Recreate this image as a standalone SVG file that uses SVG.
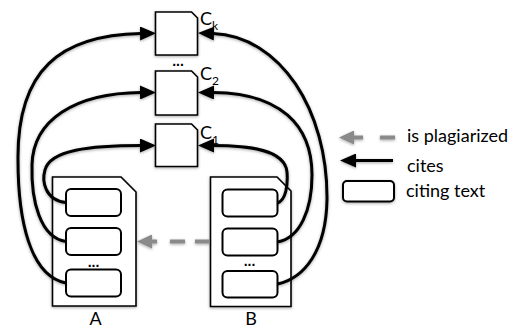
<svg xmlns="http://www.w3.org/2000/svg" width="514" height="329" viewBox="0 0 514 329">
<style>
.doc{fill:#fff;stroke:#000;stroke-width:1.6}
.cell{fill:#fff;stroke:#000;stroke-width:2}
.cite{fill:none;stroke:#000;stroke-width:3}
.plag{fill:none;stroke:#8a8a8a;stroke-width:4}
.lbl{font-family:"Lato","Liberation Sans",sans-serif;fill:#000}
.dots{font-family:"Liberation Sans",sans-serif;font-weight:bold;font-size:14px;text-anchor:middle}
</style>
<defs>
<filter id="sh" x="-20%" y="-20%" width="140%" height="140%">
<feDropShadow dx="0" dy="1" stdDeviation="1.5" flood-color="#000" flood-opacity="0.35"/>
</filter>
<marker id="ah" markerUnits="userSpaceOnUse" viewBox="0 0 16 14" refX="1" refY="7" markerWidth="16" markerHeight="14" orient="auto">
<path d="M0,0 L16,7 L0,14 Z" fill="#000"/>
</marker>
<marker id="gh" markerUnits="userSpaceOnUse" viewBox="0 0 15 14" refX="1" refY="7" markerWidth="15" markerHeight="14" orient="auto">
<path d="M0,0 L15,7 L0,14 Z" fill="#8a8a8a"/>
</marker>
</defs>

<g id="C_k" filter="url(#sh)">
<path class="doc" d="M155.5,12 H191.5 L197.5,18 V55 H155.5 Z"/>
</g>
<g id="C_2" filter="url(#sh)">
<path class="doc" d="M155.5,71 H191.5 L197.5,77 V115 H155.5 Z"/>
</g>
<g id="C_1" filter="url(#sh)">
<path class="doc" d="M155.5,124 H191.5 L197.5,130 V166.5 H155.5 Z"/>
</g>

<g id="A" filter="url(#sh)">
<path class="doc" d="M52.5,177 H121 L136,192 V306 H52.5 Z"/>
<rect class="cell" x="66" y="189" width="55" height="27" rx="5"/>
<rect class="cell" x="66" y="228" width="55" height="27" rx="5"/>
<rect class="cell" x="66" y="269.5" width="55" height="27" rx="5"/>
</g>

<g id="B" filter="url(#sh)">
<path class="doc" d="M210.5,177 H277 L291,191 V306.5 H210.5 Z"/>
<rect class="cell" x="222.5" y="189.5" width="55" height="27" rx="5"/>
<rect class="cell" x="222.5" y="228.5" width="55" height="27" rx="5"/>
<rect class="cell" x="222.5" y="271" width="55" height="26.5" rx="5"/>
</g>

<g id="connectors" filter="url(#sh)">
<path class="cite" d="M66,202.5 C44,200 42,180 45,170 C50,150 90,145.5 141,145.5" marker-end="url(#ah)"/>
<path class="cite" d="M66,241.5 C40,238 31,200 32,165 C33,120 75,93 141,92.5" marker-end="url(#ah)"/>
<path class="cite" d="M66,283 C30,276 18,220 18,160 C17,70 60,35 141,33.5" marker-end="url(#ah)"/>
<path class="cite" d="M277.5,203 C286,200 288,185 287,172 C285,150 250,145.5 213,145.5" marker-end="url(#ah)"/>
<path class="cite" d="M277.5,242 C300,238 312,210 312,175 C312,125 280,93 213,92.5" marker-end="url(#ah)"/>
<path class="cite" d="M277.5,284 C305,278 326,250 327,200 C328,110 280,36 213,33.5" marker-end="url(#ah)"/>
<path class="plag" d="M210,241.5 H151" stroke-dasharray="15 10 15 13 20" marker-end="url(#gh)"/>
</g>

<g id="labels">
<text class="lbl" x="200" y="25" font-size="18">C<tspan font-size="12" dy="5">k</tspan></text>
<text class="lbl" x="200" y="80" font-size="18">C<tspan font-size="12" dy="5">2</tspan></text>
<text class="lbl" x="200" y="139" font-size="18">C<tspan font-size="12" dy="5">1</tspan></text>
<text class="dots" x="178" y="66">...</text>
<text class="dots" x="93.5" y="267">...</text>
<text class="dots" x="249.5" y="266">...</text>
<text class="lbl" x="95.5" y="325" font-size="18" text-anchor="middle">A</text>
<text class="lbl" x="251" y="325" font-size="18" text-anchor="middle">B</text>
</g>

<g id="legend">
<g filter="url(#sh)">
<path class="plag" d="M395,137.5 H353" stroke-dasharray="15 17 20" marker-end="url(#gh)"/>
<path class="cite" d="M393,160.5 H355" marker-end="url(#ah)"/>
<rect class="cell" x="343" y="181" width="51" height="20.5" rx="4"/>
</g>
<text class="lbl" x="407" y="142" font-size="18">is plagiarized</text>
<text class="lbl" x="407" y="172" font-size="18">cites</text>
<text class="lbl" x="406" y="197" font-size="18">citing text</text>
</g>
</svg>
